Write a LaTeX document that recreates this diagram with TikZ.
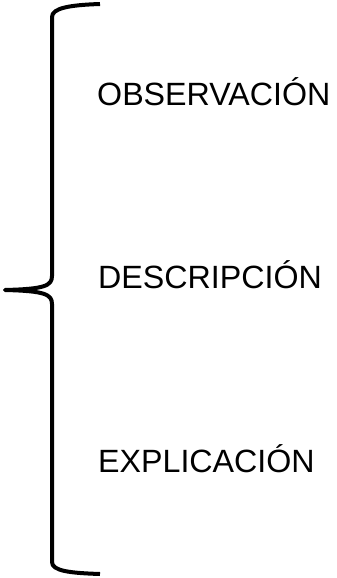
\documentclass[tikz,border=0pt]{standalone}
\usepackage{fontspec}
\setmainfont{Liberation Sans}
\begin{document}
\begin{tikzpicture}[x=1pt,y=1pt,
  bracket/.style={line width=4pt, line cap=butt, line join=round},
  label/.style={anchor=base west, inner sep=0pt, font=\fontsize{32.2}{36}\selectfont}]
\useasboundingbox (0,0) rectangle (337,-578);
\draw[bracket] (100,-4) .. controls (70,-5) and (52,-8) .. (52,-17)
  -- (52,-276) .. controls (52,-286) and (44,-289) .. (5,-290)
  .. controls (44,-291) and (52,-294) .. (52,-304)
  -- (52,-562) .. controls (52,-571) and (70,-573) .. (100,-574);
\node[label] (obs) at (97,-105) {OBSERVACIÓN};
\node[label] (des) at (98,-288.5) {DESCRIPCIÓN};
\node[label] (exp) at (98,-472) {EXPLICACIÓN};
\end{tikzpicture}
\end{document}
